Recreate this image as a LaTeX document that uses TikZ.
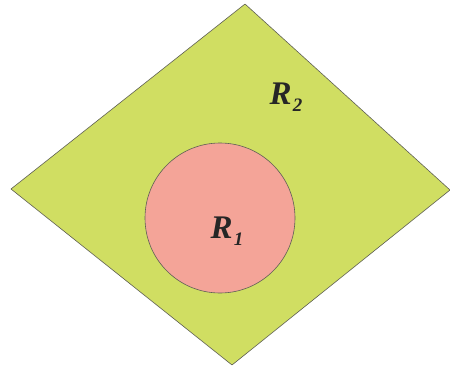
\documentclass[tikz,border=0pt]{standalone}
\usepackage{fontspec}
\setmainfont{Liberation Serif}
\usepackage{xcolor}
\usepackage{tikz}
\definecolor{ColOuter}{RGB}{208,222,98}
\definecolor{ColInner}{RGB}{244,164,152}
\definecolor{ColEdge}{RGB}{95,95,85}
\newcommand{\regionname}[1]{\bfseries\itshape R\kern1pt\raisebox{-0.5ex}{\fontsize{19}{19}\selectfont #1}}

\begin{document}
\begin{tikzpicture}[
  x=1pt, y=-1pt,
  line cap=round,
  line join=round,
  every node/.style={font=\fontsize{33}{37}\selectfont, text=black!85}
]
  \useasboundingbox (0,0) rectangle (450,367);
  % the rhombus R_2
  \coordinate (top)    at (245,  4);
  \coordinate (right)  at (450,190);
  \coordinate (bottom) at (232,365);
  \coordinate (left)   at ( 11,189);
  \filldraw[fill=ColOuter, draw=ColEdge, line width=0.6pt]
    (top) -- (right) -- (bottom) -- (left) -- cycle;
  % the disc R_1 inside it
  \coordinate (centre) at (220,218);
  \filldraw[fill=ColInner, draw=ColEdge, line width=0.6pt] (centre) circle (75);
  \node (rtwo) at (286,97) {\regionname{2}};
  \node (rone) at (227,231) {\regionname{1}};
\end{tikzpicture}
\end{document}
